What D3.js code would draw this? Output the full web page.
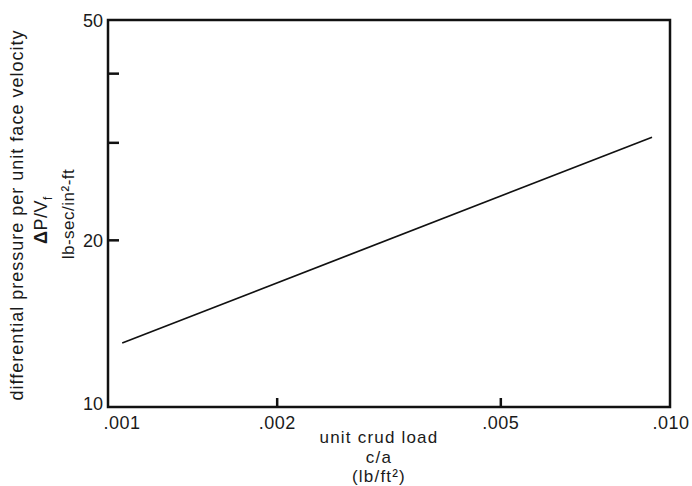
<!DOCTYPE html>
<html>
<head>
<meta charset="utf-8">
<script src="https://cdn.jsdelivr.net/npm/d3@7"></script>
<style>
  body { margin: 0; background: #fff; }
  text { font-family: "Liberation Sans", Arial, sans-serif; fill: #1a1a1a; }
</style>
</head>
<body>
<div id="app"></div>
<script>
// data (log-log)
var xTicks = [0.001, 0.002, 0.005, 0.010];
var xTickLabels = [".001", ".002", ".005", ".010"];
var yTicks = [10, 20, 30, 40, 50];
var yTickLabels = ["10", "20", "", "", "50"];
var crudLoad = [0.00106, 0.00929];
var pressure = [13.05, 30.7];

var margin = {top: 20, right: 22, bottom: 79, left: 108},
    width = 692 - margin.left - margin.right,
    height = 486 - margin.top - margin.bottom;

var x = d3.scaleLog().domain([0.001, 0.010]).range([0, width]);
var y = d3.scaleLog().domain([10, 50]).range([height, 0]);

var svg = d3.select("#app").append("svg")
    .attr("width", 692)
    .attr("height", 486)
  .append("g")
    .attr("transform", "translate(" + margin.left + "," + margin.top + ")");

// frame
svg.append("rect")
    .attr("width", width)
    .attr("height", height)
    .attr("fill", "none")
    .attr("stroke", "#111")
    .attr("stroke-width", 2.5);

// inward ticks on bottom
svg.selectAll(".xtick")
    .data(xTicks.slice(1, 3))
  .enter().append("line")
    .attr("x1", function(d) { return x(d); })
    .attr("x2", function(d) { return x(d); })
    .attr("y1", height)
    .attr("y2", height - 9)
    .attr("stroke", "#111")
    .attr("stroke-width", 2.5);

var xOff = [14, 0, 0, 1];
svg.selectAll(".xlabel")
    .data(xTicks)
  .enter().append("text")
    .attr("x", function(d, i) { return x(d) + xOff[i]; })
    .attr("y", height + 22)
    .attr("text-anchor", "middle")
    .attr("font-size", 18)
    .attr("letter-spacing", 0.5)
    .text(function(d, i) { return xTickLabels[i]; });

// inward ticks on left
svg.selectAll(".ytick")
    .data(yTicks.slice(1, 4))
  .enter().append("line")
    .attr("x1", 0)
    .attr("x2", 11)
    .attr("y1", function(d) { return y(d); })
    .attr("y2", function(d) { return y(d); })
    .attr("stroke", "#111")
    .attr("stroke-width", 2.5);

svg.selectAll(".ylabel")
    .data(yTicks)
  .enter().append("text")
    .attr("x", -5)
    .attr("y", function(d) { return y(d) + (d === 10 ? 3 : 7); })
    .attr("text-anchor", "end")
    .attr("font-size", 18)
    .text(function(d, i) { return yTickLabels[i]; });

// fitted line
var line = d3.line()
    .x(function(d) { return x(d[0]); })
    .y(function(d) { return y(d[1]); });

svg.append("path")
    .datum(d3.zip(crudLoad, pressure))
    .attr("d", line)
    .attr("fill", "none")
    .attr("stroke", "#111")
    .attr("stroke-width", 1.7);

// x axis title, three lines
var xTitle = ["unit crud load", "c/a", "(lb/ft²)"];
svg.selectAll(".xtitle")
    .data(xTitle)
  .enter().append("text")
    .attr("x", 379 - margin.left)
    .attr("y", function(d, i) { return 443 - margin.top + i * 19.5; })
    .attr("text-anchor", "middle")
    .attr("font-size", 17)
    .attr("letter-spacing", 1.2)
    .text(function(d) { return d; });

// y axis titles
var yt = svg.append("g")
    .attr("transform", "translate(" + (-margin.left) + "," + (-margin.top) + ")");

yt.append("text")
    .attr("transform", "translate(23,215) rotate(-90)")
    .attr("text-anchor", "middle")
    .attr("font-size", 18)
    .attr("letter-spacing", 1)
    .text("differential pressure per unit face velocity");

var dp = yt.append("text")
    .attr("transform", "translate(47,220) rotate(-90)")
    .attr("text-anchor", "middle")
    .attr("font-size", 18)
    .attr("letter-spacing", 0.5);
dp.append("tspan").attr("font-weight", "bold").text("Δ");
dp.append("tspan").text("P/V");
dp.append("tspan").attr("font-size", 12).attr("dy", 5).text("f");

yt.append("text")
    .attr("transform", "translate(74,214) rotate(-90)")
    .attr("text-anchor", "middle")
    .attr("font-size", 17)
    .attr("letter-spacing", 0.5)
    .text("lb-sec/in²-ft");
</script>
</body>
</html>
